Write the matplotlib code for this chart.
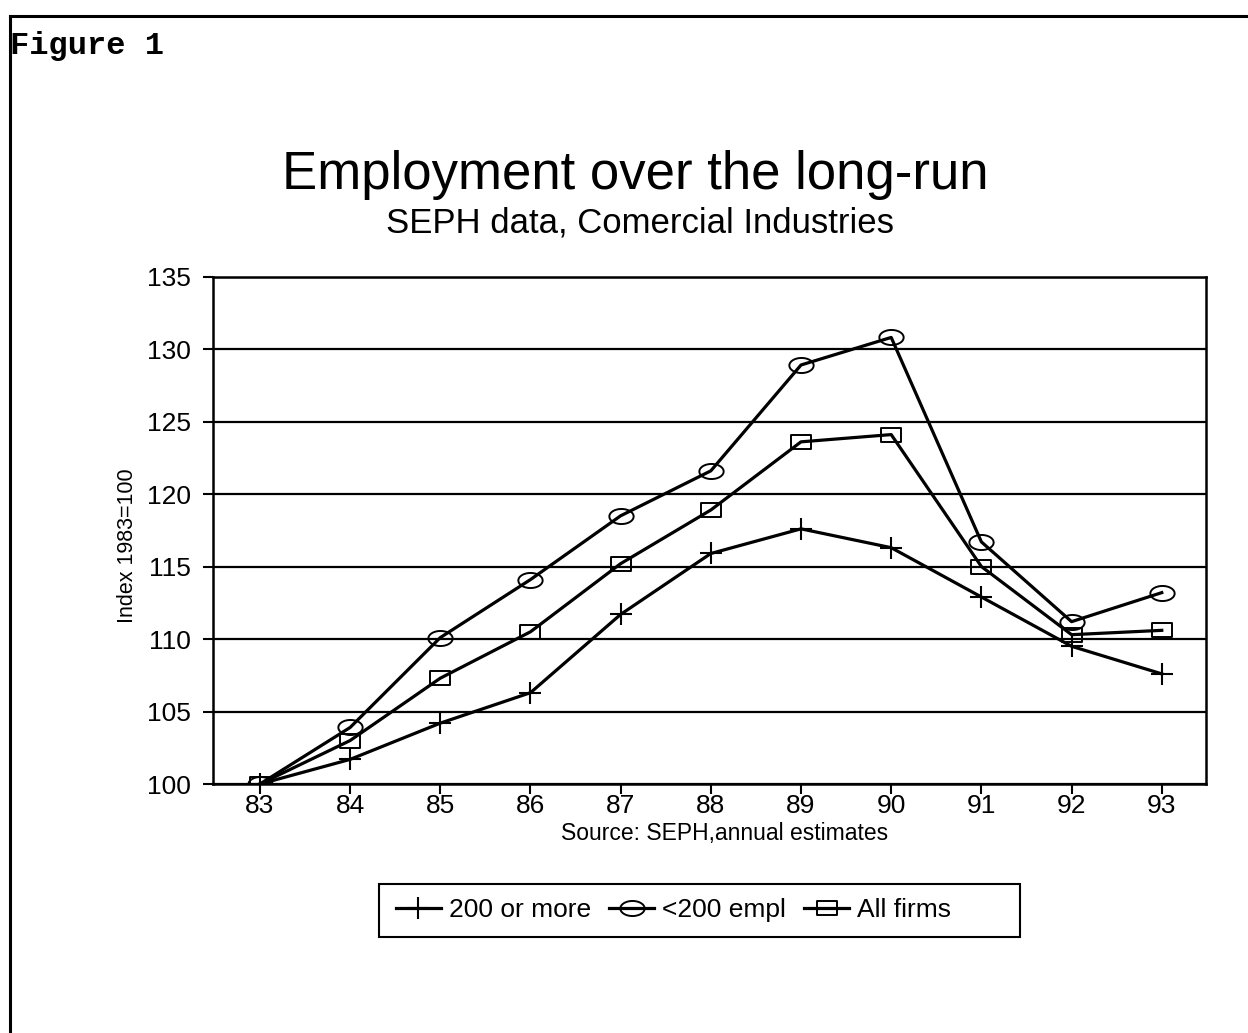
import numpy as np
import matplotlib.pyplot as plt
from matplotlib.path import Path
from matplotlib.lines import Line2D
from matplotlib.patches import Rectangle

# Datos (indice 1983=100)
anios = [83, 84, 85, 86, 87, 88, 89, 90, 91, 92, 93]
grandes = [100, 101.7, 104.2, 106.3, 111.7, 115.9, 117.6, 116.3, 112.9, 109.5, 107.6]
pequenas = [100, 103.9, 110.1, 114.1, 118.5, 121.6, 128.9, 130.8, 116.7, 111.2, 113.2]
todas = [100, 103.0, 107.3, 110.5, 115.2, 118.9, 123.6, 124.1, 115.0, 110.3, 110.6]
etiquetas = ['200 or more', '<200 empl', 'All firms']
yticks = [100, 105, 110, 115, 120, 125, 130, 135]

plt.rcParams['font.family'] = ['Liberation Sans', 'DejaVu Sans']

# Marcadores elipse y rectangulo (como en el original escaneado)
t = np.linspace(0, 2 * np.pi, 60)
elipse = Path(np.column_stack([np.cos(t), 0.62 * np.sin(t)]), closed=True)
rect = Path([(-1, -0.72), (1, -0.72), (1, 0.72), (-1, 0.72), (-1, -0.72)], closed=True)

fig = plt.figure(figsize=(12.48, 10.33), dpi=100)
ax = fig.add_axes([0.1707, 0.2410, 0.7956, 0.4913])

ax.plot(anios, grandes, color='black', lw=2.3, marker='+', ms=16, mew=1.5,
        label=etiquetas[0])
ax.plot(anios, pequenas, color='black', lw=2.3, marker=elipse, ms=17.5, mew=1.4,
        mfc='none', label=etiquetas[1])
ax.plot(anios, todas, color='black', lw=2.3, marker=rect, ms=14.5, mew=1.4,
        mfc='none', label=etiquetas[2])

ax.set_xlim(82.48, 93.49)
ax.set_ylim(100, 135)
ax.set_xticks(anios)
ax.set_yticks(yticks)
ax.yaxis.grid(True, color='black', lw=1.6)
ax.set_axisbelow(True)
ax.tick_params(direction='out', length=7, width=1.5, labelsize=19, colors='black')
ax.tick_params(axis='y', pad=9)
ax.tick_params(axis='x', pad=0)
for s in ax.spines.values():
    s.set_linewidth(1.8)

ax.set_ylabel('Index 1983=100', fontsize=15.5)
ax.yaxis.set_label_coords(-0.0755, 0.47)
ax.set_xlabel('Source: SEPH,annual estimates', fontsize=16.5)
ax.xaxis.set_label_coords(0.515, -0.074)

fig.text(0.509, 0.8305, 'Employment over the long-run', fontsize=38, ha='center', va='center')
fig.text(0.513, 0.784, 'SEPH data, Comercial Industries', fontsize=25, ha='center', va='center')

# Leyenda: recuadro propio, mas ancho que el contenido como en el original
leg = fig.legend(loc='center left', bbox_to_anchor=(372 / 1248, 0.119), ncol=3, fontsize=19,
                 frameon=False, handlelength=1.7, columnspacing=0.7, handletextpad=0.3)
fig.add_artist(Rectangle((379 / 1248, 1 - 937 / 1033), 641 / 1248, 53 / 1033,
                         transform=fig.transFigure, fill=False, edgecolor='black', lw=1.5))

# Marco del documento y rotulo
fig.add_artist(Line2D([10 / 1248, 1], [1 - 16 / 1033] * 2, color='black', lw=2.2))
fig.add_artist(Line2D([10 / 1248] * 2, [0, 1 - 16 / 1033], color='black', lw=2.2))
fig.text(10 / 1248, 1 - 46 / 1033, 'Figure 1', family=['Liberation Mono', 'DejaVu Sans Mono'],
         fontweight='bold', fontsize=23, ha='left', va='center')

fig.savefig('out.png', dpi=100)
